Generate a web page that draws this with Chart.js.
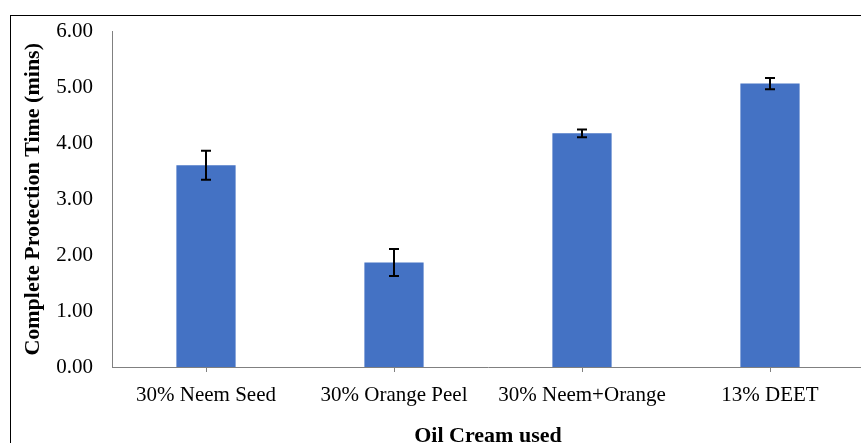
<!DOCTYPE html>
<html lang="en">
<head>
<meta charset="UTF-8">
<title>Protection time</title>
<style>
  body { margin: 0; overflow: hidden; background: #fff; }
  #frame { position: absolute; left: 10px; top: 15px; width: 900px; height: 500px; border: 1px solid #000; }
  #wrap { position: absolute; left: 0; top: 0; width: 870px; height: 443px; }
</style>
</head>
<body>
<div id="frame"></div>
<div id="wrap"><canvas id="myChart" width="870" height="443"></canvas></div>
<script src="https://cdn.jsdelivr.net/npm/chart.js"></script>
<script>
const categories = ['30% Neem Seed', '30% Orange Peel', '30% Neem+Orange', '13% DEET'];
const protectionTime = [3.61, 1.87, 4.18, 5.07];
const errorSize = [0.26, 0.24, 0.07, 0.10];
const yTicks = [0, 1, 2, 3, 4, 5, 6];

// draws the error bars from the bar scale
const errorBars = {
    id: 'errorBars',
    afterDatasetsDraw(chart) {
        const ctx = chart.ctx;
        const meta = chart.getDatasetMeta(0);
        const y = chart.scales.y;
        ctx.save();
        ctx.strokeStyle = '#000';
        ctx.lineWidth = 2;
        meta.data.forEach((bar, i) => {
            const v = protectionTime[i];
            const top = y.getPixelForValue(v + errorSize[i]);
            const bot = y.getPixelForValue(v - errorSize[i]);
            const x = Math.round(bar.x);
            ctx.beginPath();
            ctx.moveTo(x, top); ctx.lineTo(x, bot);
            ctx.moveTo(x - 5, top); ctx.lineTo(x + 5, top);
            ctx.moveTo(x - 5, bot); ctx.lineTo(x + 5, bot);
            ctx.stroke();
        });
        ctx.restore();
    }
};

const config = {
    type: 'bar',
    data: {
        labels: categories,
        datasets: [{
            data: protectionTime,
            backgroundColor: '#4472C4',
            borderWidth: 0,
            categoryPercentage: 1,
            barPercentage: 0.315
        }]
    },
    options: {
        responsive: false,
        animation: false,
        layout: { padding: { top: 31, right: 6, left: 0, bottom: 0 } },
        plugins: { legend: { display: false }, tooltip: { enabled: false } },
        scales: {
            x: {
                afterFit(scale) { scale.height = 76; },
                grid: { display: true, drawOnChartArea: false, drawTicks: true, tickLength: 5, offset: false, color: '#808080' },
                border: { color: '#808080', width: 1 },
                ticks: { color: '#000', padding: 11, font: { family: 'Liberation Serif', size: 21 } },
                title: {
                    display: true,
                    text: 'Oil Cream used',
                    color: '#000',
                    padding: { top: 0, bottom: -7 },
                    font: { family: 'Liberation Serif', size: 22, weight: 'bold' }
                }
            },
            y: {
                min: 0,
                max: 6,
                afterFit(scale) { scale.width = 112; },
                afterBuildTicks(scale) { scale.ticks = yTicks.map(v => ({ value: v })); },
                grid: { display: false, drawTicks: false },
                border: { color: '#808080', width: 1 },
                ticks: {
                    color: '#000',
                    padding: 19,
                    font: { family: 'Liberation Serif', size: 21 },
                    callback: v => Number(v).toFixed(2)
                },
                title: {
                    display: true,
                    text: 'Complete Protection Time (mins)',
                    color: '#000',
                    padding: { top: 20, bottom: 0 },
                    font: { family: 'Liberation Serif', size: 22, weight: 'bold' }
                }
            }
        }
    },
    plugins: [errorBars]
};

var myChart = new Chart(document.getElementById('myChart'), config);
</script>
</body>
</html>
